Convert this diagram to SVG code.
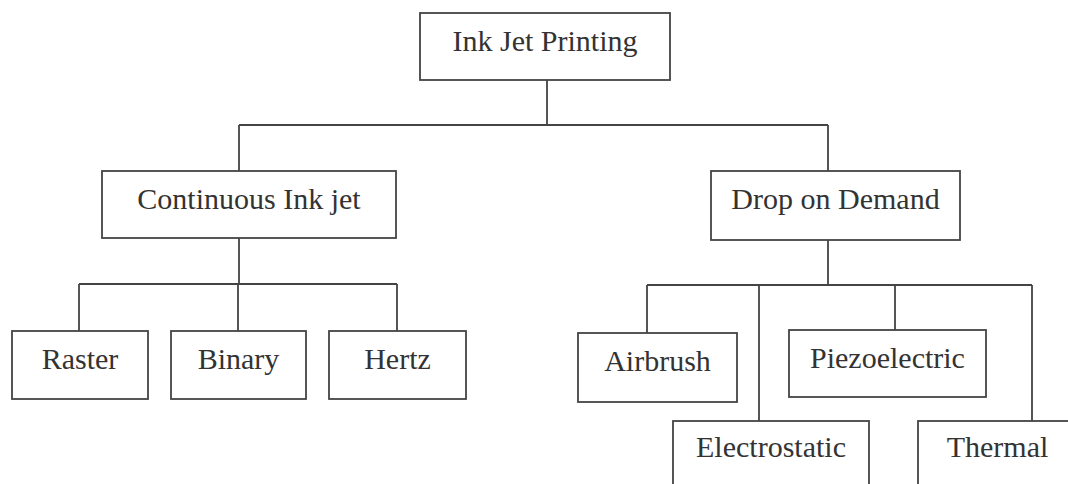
<svg xmlns="http://www.w3.org/2000/svg" width="1068" height="484" viewBox="0 0 1068 484">
<style>
.box{fill:#fff;stroke:#444;stroke-width:1.8}
.lbl{font-family:"Liberation Serif","Times New Roman",serif;font-size:30px;fill:#333;text-anchor:middle}
.con{fill:none;stroke:#444;stroke-width:1.8}
</style>
<rect width="1068" height="484" fill="#fff"/>
<g id="connectors">
<path class="con" d="M547 80V125M239 125H828M239 125V171M828 125V171"/>
<path class="con" d="M239 238V284M79 284H397M79 284V331M238 284V331M397 284V331"/>
<path class="con" d="M828 240V285M647 285H1032M647 285V333M759 285V421M895 285V330M1032 285V421"/>
</g>
<g id="ink-jet-printing"><rect class="box" x="420" y="13" width="250" height="67"/><text class="lbl" x="545" y="51">Ink Jet Printing</text></g>
<g id="continuous"><rect class="box" x="102" y="171" width="294" height="67"/><text class="lbl" x="249" y="209">Continuous Ink jet</text></g>
<g id="drop-on-demand"><rect class="box" x="711" y="171" width="249" height="69"/><text class="lbl" x="835.5" y="209">Drop on Demand</text></g>
<g id="raster"><rect class="box" x="12" y="331" width="136" height="68"/><text class="lbl" x="80" y="369">Raster</text></g>
<g id="binary"><rect class="box" x="171" y="331" width="135" height="68"/><text class="lbl" x="238.5" y="369">Binary</text></g>
<g id="hertz"><rect class="box" x="329" y="331" width="137" height="68"/><text class="lbl" x="397.5" y="369">Hertz</text></g>
<g id="airbrush"><rect class="box" x="578" y="333" width="159" height="69"/><text class="lbl" x="657.5" y="371">Airbrush</text></g>
<g id="piezoelectric"><rect class="box" x="789" y="330" width="197" height="67"/><text class="lbl" x="887.5" y="368">Piezoelectric</text></g>
<g id="electrostatic"><rect class="box" x="673" y="421" width="196" height="80"/><text class="lbl" x="771" y="457">Electrostatic</text></g>
<g id="thermal"><rect class="box" x="918" y="421" width="160" height="80"/><text class="lbl" x="997.5" y="457">Thermal</text></g>
</svg>
